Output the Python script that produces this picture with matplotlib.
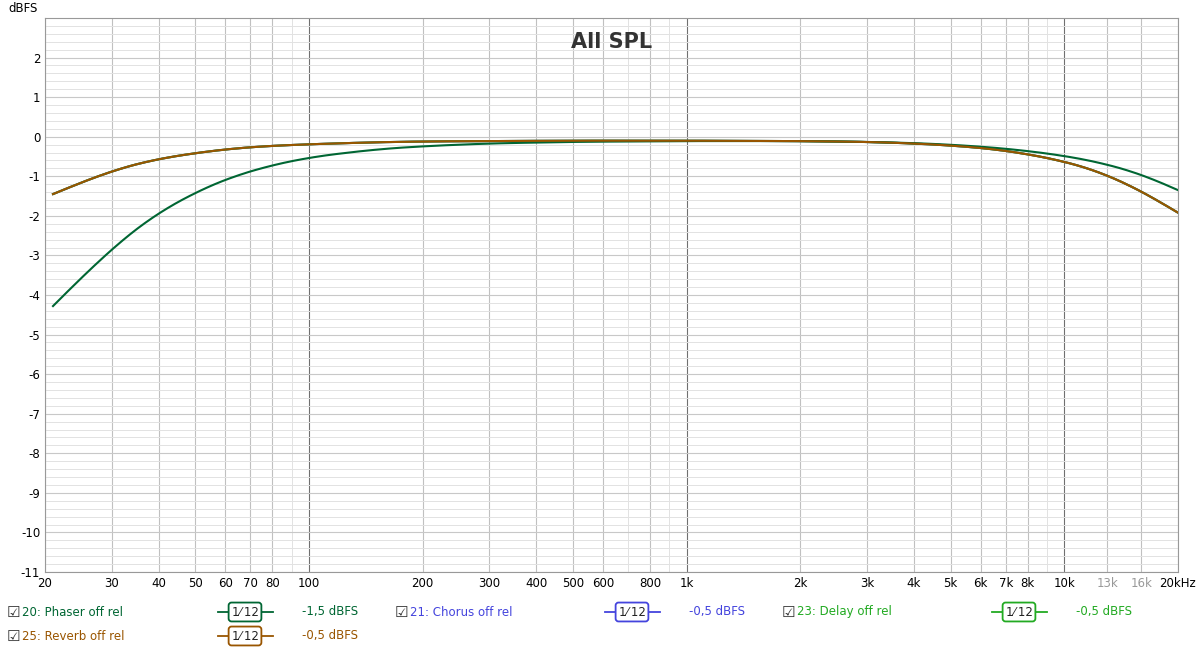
import numpy as np
import matplotlib
matplotlib.use("Agg")
import matplotlib.pyplot as plt
from matplotlib.ticker import FixedLocator, NullFormatter, MultipleLocator

plt.rcParams["axes.unicode_minus"] = False

freq = [21, 25, 30, 35, 40, 50, 60, 70, 80, 100, 150, 200, 300, 500, 1000, 2000, 3000, 4000, 5000, 6000, 7000, 8000, 10000, 12000, 14000, 16000, 18000, 20000]
phaser = [-4.28, -3.55, -2.85, -2.3, -1.92, -1.4, -1.08, -0.86, -0.72, -0.52, -0.32, -0.24, -0.17, -0.13, -0.11, -0.11, -0.13, -0.16, -0.2, -0.25, -0.3, -0.36, -0.48, -0.62, -0.78, -0.95, -1.15, -1.35]
reverb = [-1.45, -1.15, -0.87, -0.68, -0.56, -0.41, -0.32, -0.26, -0.23, -0.19, -0.14, -0.12, -0.11, -0.1, -0.1, -0.11, -0.13, -0.17, -0.22, -0.28, -0.35, -0.44, -0.62, -0.84, -1.1, -1.38, -1.65, -1.92]
delay = reverb
chorus = reverb

xticks = [20, 30, 40, 50, 60, 70, 80, 100, 200, 300, 400, 500, 600, 800, 1000, 2000, 3000, 4000, 5000, 6000, 7000, 8000, 10000, 13000, 16000, 20000]
xlabels = ["20", "30", "40", "50", "60", "70", "80", "100", "200", "300", "400", "500", "600", "800", "1k", "2k", "3k", "4k", "5k", "6k", "7k", "8k", "10k", "13k", "16k", "20kHz"]
yticks = list(range(-11, 3))

fig = plt.figure(figsize=(12, 6.51), dpi=100)
ax = fig.add_axes([45/1200, 1-572/651, (1178-45)/1200, (572-18)/651])
fx = np.logspace(np.log10(21), np.log10(20000), 600)

def smooth(y):
    v = np.interp(np.log10(fx), np.log10(freq), y)
    k = 15
    pad = np.concatenate([np.full(k, v[0]) * 0 + (2*v[0] - v[k:0:-1]), v, 2*v[-1] - v[-2:-k-2:-1]])
    w = np.ones(2*k+1) / (2*k+1)
    return np.convolve(pad, w, mode="same")[k:-k]

ax.plot(fx, smooth(chorus), color="#4444dd", lw=1.5)
ax.plot(fx, smooth(delay), color="#22aa22", lw=1.5)
ax.plot(fx, smooth(phaser), color="#006633", lw=1.5)
ax.plot(fx, smooth(reverb), color="#995500", lw=1.5)
ax.set_xscale("log")
ax.set_xlim(20, 20000)
ax.set_ylim(-11, 3)
ax.xaxis.set_major_locator(FixedLocator(xticks))
ax.set_xticklabels(xlabels, fontsize=8.5)
for t, l in zip(ax.get_xticklabels(), xlabels):
    if l in ("13k", "16k"):
        t.set_color("#999999")
ax.xaxis.set_minor_locator(FixedLocator([f for d in (10, 100, 1000, 10000) for f in np.arange(1, 10) * d if 20 <= f <= 20000]))
ax.xaxis.set_minor_formatter(NullFormatter())
ax.yaxis.set_major_locator(FixedLocator(yticks))
ax.set_yticklabels([str(v) for v in yticks], fontsize=8.5)
ax.yaxis.set_minor_locator(MultipleLocator(0.2))
ax.tick_params(labelsize=8.5, length=0, which="both")
ax.grid(True, which="minor", color="#e2e2e2", lw=0.7)
ax.grid(True, which="major", axis="y", color="#c8c8c8", lw=0.8)
for f in xticks:
    c = "#707070" if f in (100, 1000, 10000) else "#c0c0c0"
    ax.axvline(f, color=c, lw=0.8, zorder=0.5, ls="-")
for s in ax.spines.values():
    s.set_color("#999999")
ax.text(0.5, 0.975, "All SPL", transform=ax.transAxes, ha="center", va="top", fontsize=15, color="#333333", fontweight="bold")
fig.text(8/1200, 1-8/651, "dBFS", fontsize=8.5, va="center")

def legend(x, y, label, col, val, lx, vx):
    fig.text(x/1200, 1-y/651, "\u2611", fontsize=11, va="center", color="#333333", family=["DejaVu Sans"])
    fig.text((x+15)/1200, 1-y/651, label, fontsize=8.5, va="center", color=col)
    fig.lines.append(plt.Line2D([lx/1200, (lx+55)/1200], [1-y/651]*2, color=col, lw=1.3, transform=fig.transFigure))
    fig.text((lx+27)/1200, 1-y/651, "1\u2044\u200912", fontsize=8.5, ha="center", va="center", color="#222222",
             bbox=dict(boxstyle="round,pad=0.25", fc="white", ec=col, lw=1.3))
    fig.text(vx/1200, 1-y/651, val, fontsize=8.5, va="center", color=col)

legend(7, 612, "20: Phaser off rel", "#006633", "-1,5 dBFS", 218, 302)
legend(395, 612, "21: Chorus off rel", "#4444dd", "-0,5 dBFS", 605, 689)
legend(782, 612, "23: Delay off rel", "#22aa22", "-0,5 dBFS", 992, 1076)
legend(7, 636, "25: Reverb off rel", "#995500", "-0,5 dBFS", 218, 302)
fig.savefig("out.png", dpi=100)
